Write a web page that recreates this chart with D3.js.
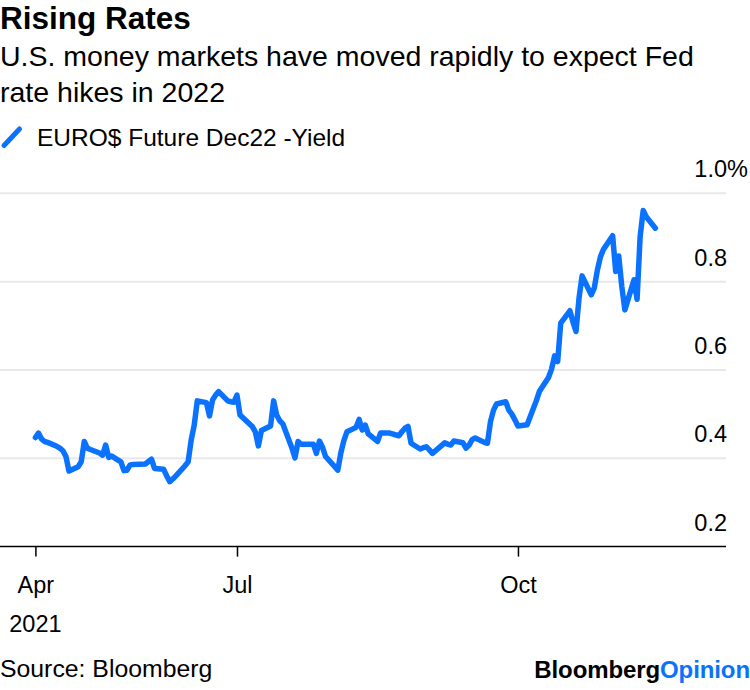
<!DOCTYPE html>
<html>
<head>
<meta charset="utf-8">
<script src="https://cdn.jsdelivr.net/npm/d3@7"></script>
<style>
  html, body { margin: 0; padding: 0; background: #ffffff; }
  svg { display: block; font-family: "Liberation Sans", Arial, Helvetica, sans-serif; }
</style>
</head>
<body>
<svg id="chart" width="750" height="690"></svg>
<script>
// ---- Data ----
const seriesName = "EURO$ Future Dec22 -Yield";
const dates = [
  "2021-04-26","2021-04-27","2021-04-28","2021-04-29","2021-04-30",
  "2021-05-03","2021-05-04","2021-05-05","2021-05-06","2021-05-07",
  "2021-05-10","2021-05-11","2021-05-12","2021-05-13","2021-05-14",
  "2021-05-17","2021-05-18","2021-05-19","2021-05-20","2021-05-21",
  "2021-05-24","2021-05-25","2021-05-26","2021-05-27","2021-05-28",
  "2021-06-01","2021-06-03","2021-06-04",
  "2021-06-07","2021-06-08","2021-06-09","2021-06-10","2021-06-11",
  "2021-06-14","2021-06-15","2021-06-16","2021-06-17","2021-06-18",
  "2021-06-21","2021-06-22","2021-06-23","2021-06-24","2021-06-25",
  "2021-06-28","2021-06-29","2021-06-30","2021-07-01","2021-07-02",
  "2021-07-06","2021-07-07","2021-07-08","2021-07-09",
  "2021-07-12","2021-07-13","2021-07-14","2021-07-15","2021-07-16",
  "2021-07-19","2021-07-20","2021-07-21","2021-07-22","2021-07-23",
  "2021-07-26","2021-07-27","2021-07-28","2021-07-29","2021-07-30",
  "2021-08-02","2021-08-03","2021-08-04","2021-08-05","2021-08-06",
  "2021-08-09","2021-08-10","2021-08-11","2021-08-12","2021-08-13",
  "2021-08-16","2021-08-17","2021-08-18","2021-08-19","2021-08-20",
  "2021-08-23","2021-08-24","2021-08-25","2021-08-26","2021-08-27",
  "2021-08-30","2021-08-31","2021-09-01","2021-09-02","2021-09-03",
  "2021-09-07","2021-09-08","2021-09-09","2021-09-10",
  "2021-09-13","2021-09-14","2021-09-15","2021-09-16","2021-09-17",
  "2021-09-20","2021-09-21","2021-09-22","2021-09-23","2021-09-24",
  "2021-09-27","2021-09-28","2021-09-29","2021-09-30","2021-10-01",
  "2021-10-04","2021-10-05","2021-10-06","2021-10-07","2021-10-08",
  "2021-10-11","2021-10-12","2021-10-13","2021-10-14","2021-10-15",
  "2021-10-18","2021-10-19","2021-10-20","2021-10-21","2021-10-22",
  "2021-10-25","2021-10-26","2021-10-27","2021-10-28","2021-10-29",
  "2021-11-01","2021-11-02","2021-11-03","2021-11-04","2021-11-05",
  "2021-11-08","2021-11-09","2021-11-10","2021-11-11","2021-11-12",
  "2021-11-15"
];
const values = [
  0.447,0.457,0.444,0.438,0.436,
  0.427,0.423,0.417,0.404,0.371,
  0.381,0.392,0.438,0.423,0.420,
  0.412,0.407,0.430,0.402,0.405,
  0.392,0.372,0.373,0.385,0.386,
  0.387,0.398,0.377,
  0.375,0.360,0.347,0.353,0.360,
  0.383,0.392,0.441,0.475,0.530,
  0.526,0.496,0.532,0.543,0.551,
  0.530,0.528,0.527,0.543,0.498,
  0.472,0.460,0.428,0.463,
  0.473,0.530,0.498,0.485,0.478,
  0.423,0.401,0.438,0.432,0.432,
  0.432,0.411,0.439,0.425,0.404,
  0.381,0.373,0.412,0.440,0.460,
  0.470,0.488,0.464,0.475,0.455,
  0.438,0.457,0.457,0.457,0.457,
  0.451,0.460,0.468,0.472,0.434,
  0.421,0.424,0.426,0.419,0.411,
  0.435,0.432,0.430,0.439,
  0.435,0.423,0.430,0.442,0.446,
  0.436,0.434,0.483,0.509,0.523,
  0.528,0.509,0.500,0.487,0.473,
  0.476,0.494,0.512,0.530,0.551,
  0.583,0.602,0.632,0.619,0.706,
  0.734,0.709,0.687,0.763,0.813,
  0.770,0.786,0.826,0.856,0.873,
  0.904,0.823,0.858,0.789,0.736,
  0.804,0.760,0.902,0.961,0.947,
  0.921
];
const yTicks = [0.2, 0.4, 0.6, 0.8, 1.0];
const xTickDates = ["2021-04-26", "2021-07-01", "2021-10-01"];
const xTickLabels = ["Apr", "Jul", "Oct"];
const yearLabel = "2021";
const titleText = "Rising Rates";
const subtitleLines = ["U.S. money markets have moved rapidly to expect Fed", "rate hikes in 2022"];
const sourceText = "Source: Bloomberg";

// ---- Rendering ----
const parse = d3.timeParse("%Y-%m-%d");
const data = dates.map((d, i) => ({ date: parse(d), value: values[i] }));

const blue = "#0a72ff";
const svg = d3.select("#chart");

const x = d3.scaleTime()
  .domain([parse(dates[0]), parse(dates[dates.length - 1])])
  .range([35.4, 655.4]);
const y = d3.scaleLinear().domain([0.2, 1.0]).range([546.6, 193.3]);

const gridRight = 726;

// title / subtitle
svg.append("text").attr("x", 0).attr("y", 29)
  .attr("font-size", 31.5).attr("font-weight", "bold").attr("fill", "#000")
  .text(titleText);
subtitleLines.forEach((t, i) => {
  svg.append("text").attr("x", 0).attr("y", 66 + i * 36)
    .attr("font-size", 28.5).attr("fill", "#000").text(t);
});

// legend
svg.append("line").attr("x1", 4).attr("y1", 145.5).attr("x2", 19.5).attr("y2", 129)
  .attr("stroke", blue).attr("stroke-width", 5).attr("stroke-linecap", "round");
svg.append("text").attr("x", 37).attr("y", 145.5)
  .attr("font-size", 24.5).attr("fill", "#000").text(seriesName);

// gridlines
svg.append("g").selectAll("line")
  .data(yTicks.filter(v => v > 0.2))
  .join("line")
  .attr("x1", 0).attr("x2", gridRight)
  .attr("y1", d => y(d)).attr("y2", d => y(d))
  .attr("stroke", "#e8e8e8").attr("stroke-width", 2);

// y labels (placed above their gridline, right aligned)
const yLab = svg.append("g");
yTicks.forEach((v, i) => {
  yLab.append("text").attr("x", 727).attr("y", y(v) - 16)
    .attr("text-anchor", "end").attr("font-size", 23.5).attr("fill", "#000")
    .text(d3.format(".1f")(v));
  if (i === yTicks.length - 1) {
    yLab.append("text").attr("x", 727).attr("y", y(v) - 16)
      .attr("font-size", 23.5).attr("fill", "#000").text("%");
  }
});

// x axis
const xAxis = d3.axisBottom(x)
  .tickValues(xTickDates.map(parse))
  .tickFormat((d, i) => xTickLabels[i])
  .tickSize(10).tickPadding(20);
const gx = svg.append("g").attr("transform", `translate(0,${y(0.2)})`).call(xAxis);
gx.select(".domain").remove();
gx.selectAll(".tick line").attr("stroke", "#000").attr("stroke-width", 1.5);
gx.selectAll(".tick text").attr("font-size", 23.5).attr("fill", "#000")
  .attr("font-family", "Liberation Sans, Arial, sans-serif");
svg.append("line").attr("x1", 0).attr("x2", gridRight)
  .attr("y1", y(0.2)).attr("y2", y(0.2)).attr("stroke", "#000").attr("stroke-width", 1.5);
svg.append("text").attr("x", x(parse(xTickDates[0]))).attr("y", 632)
  .attr("text-anchor", "middle").attr("font-size", 23.5).attr("fill", "#000").text(yearLabel);

// line
const line = d3.line().x(d => x(d.date)).y(d => y(d.value));
svg.append("path").datum(data).attr("d", line)
  .attr("fill", "none").attr("stroke", blue).attr("stroke-width", 5.5)
  .attr("stroke-linejoin", "round").attr("stroke-linecap", "round");

// footer
svg.append("text").attr("x", 0).attr("y", 677)
  .attr("font-size", 24.8).attr("fill", "#000").text(sourceText);
const logo = svg.append("text").attr("x", 750).attr("y", 678)
  .attr("text-anchor", "end").attr("font-size", 24).attr("font-weight", "bold")
  .attr("letter-spacing", -0.1);
logo.append("tspan").attr("fill", "#000").text("Bloomberg");
logo.append("tspan").attr("fill", blue).text("Opinion");
</script>
</body>
</html>
